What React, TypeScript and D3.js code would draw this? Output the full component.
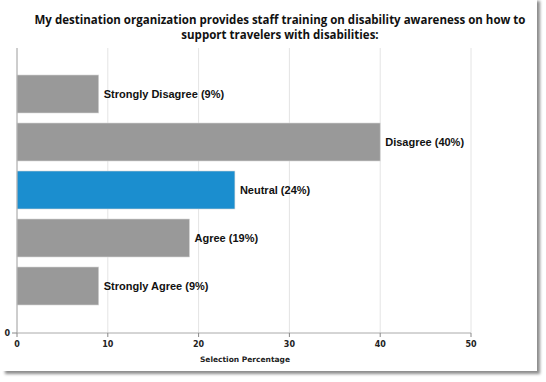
import React from "react";
import * as d3 from "d3";

const categories = ["Strongly Disagree", "Disagree", "Neutral", "Agree", "Strongly Agree"];
const values = [9, 40, 24, 19, 9];
const highlight = "Neutral";
const xTicks = [0, 10, 20, 30, 40, 50];
const titleLines = [
  "My destination organization provides staff training on disability awareness on how to",
  "support travelers with disabilities:",
];
const xLabel = "Selection Percentage";

export default function App() {
  const W = 546, H = 382;
  const x = d3.scaleLinear().domain([0, 50]).range([17, 471]);
  const y = d3.scaleBand<string>().domain(categories).range([70, 310]).paddingInner(0.2083).paddingOuter(0.104);
  const plotTop = 48, plotBottom = 333;
  const sans = "'DejaVu Sans', Verdana";
  return (
    <svg width={W} height={H} style={{ position: "absolute", left: 0, top: 0 }}>
      <defs>
        <filter id="sh" x="-5%" y="-5%" width="110%" height="110%">
          <feDropShadow dx="3" dy="3" stdDeviation="1.5" floodColor="#000" floodOpacity="0.45" />
        </filter>
      </defs>
      <rect x={2} y={-2} width={535} height={373} fill="#fff" filter="url(#sh)" />
      {titleLines.map((t, i) => (
        <text key={i} x={280} y={24 + i * 15} textAnchor="middle" fontFamily="'Open Sans', sans-serif" fontWeight="bold" fontSize={11.5} fill="#111">{t}</text>
      ))}
      {xTicks.map((t) => (
        <line key={"g" + t} x1={x(t)} x2={x(t)} y1={plotTop} y2={plotBottom} stroke="#e4e4e4" strokeWidth={1} />
      ))}
      {categories.map((c, i) => (
        <g key={c}>
          <rect x={x(0)} y={y(c)} width={x(values[i]) - x(0)} height={y.bandwidth()} fill={c === highlight ? "#1b8ecf" : "#999999"} stroke="#d8d8d8" strokeWidth={0.6} />
          <text x={x(values[i]) + 5} y={(y(c) as number) + y.bandwidth() / 2} dy="0.35em" fontFamily="'Liberation Sans', Arial" fontWeight="bold" fontSize={11} fill="#111">{`${c} (${values[i]}%)`}</text>
        </g>
      ))}
      <line x1={x(0)} x2={x(50)} y1={plotBottom} y2={plotBottom} stroke="#aaa" />
      <line x1={x(0)} x2={x(0)} y1={plotTop} y2={plotBottom} stroke="#aaa" />
      <line x1={x(0) - 5} x2={x(0)} y1={plotBottom} y2={plotBottom} stroke="#888" />
      <text x={x(0) - 7} y={plotBottom} dy="0.35em" textAnchor="end" fontFamily={sans} fontWeight="bold" fontSize={8} fill="#222">0</text>
      {xTicks.map((t) => (
        <g key={"t" + t}>
          <line x1={x(t)} x2={x(t)} y1={plotBottom} y2={plotBottom + 4} stroke="#888" />
          <text x={x(t)} y={plotBottom + 14} textAnchor="middle" fontFamily={sans} fontWeight="bold" fontSize={8} fill="#222">{t}</text>
        </g>
      ))}
      <text x={245} y={362} textAnchor="middle" fontFamily={sans} fontWeight="bold" fontSize={7.5} fill="#222">{xLabel}</text>
    </svg>
  );
}
